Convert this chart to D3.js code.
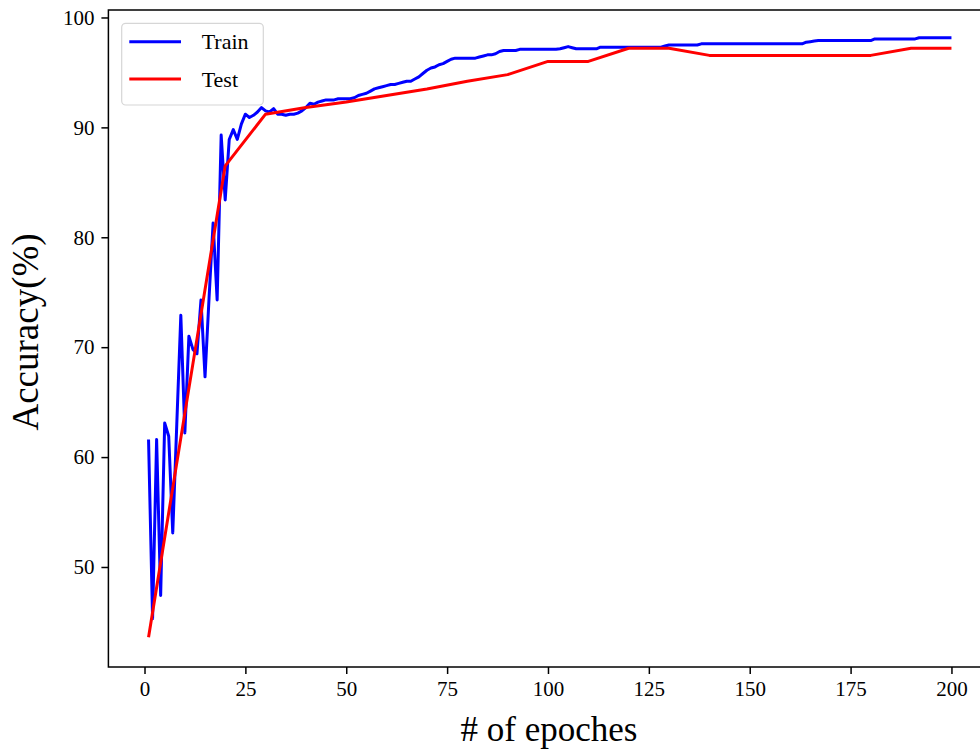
<!DOCTYPE html>
<html lang="en">
<head>
    <meta charset="UTF-8">
    <title>Accuracy vs epochs</title>
    <script src="https://d3js.org/d3.v7.min.js"></script>
    <style>
        body { margin: 0; background: #fff; }
        svg { display: block; font-family: "Liberation Serif", "Times New Roman", serif; }
        .tick text { font-family: "Liberation Serif", "Times New Roman", serif; font-size: 21px; fill: #000; }
        .tick line, .domain { stroke: #000; stroke-width: 1.5; }
    </style>
</head>
<body>
    <svg width="980" height="751"></svg>

    <script>
        // epochs for the training curve (one value per epoch)
        const trainEpochs = d3.range(1, 201);
        const trainAcc = [
            61.6, 45.3, 61.6, 47.4, 63.1, 61.9, 53.1, 63.0, 72.9, 62.2,
            71.0, 69.8, 69.4, 74.3, 67.3, 74.5, 81.3, 74.3, 89.3, 83.4,
            88.9, 89.8, 88.9, 90.3, 91.2, 90.9, 91.1, 91.4, 91.8, 91.5,
            91.4, 91.7, 91.2, 91.2, 91.1, 91.2, 91.2, 91.3, 91.5, 91.8,
            92.2, 92.1, 92.3, 92.4, 92.5, 92.5, 92.5, 92.6, 92.6, 92.6,
            92.6, 92.7, 92.9, 93.0, 93.1, 93.3, 93.5, 93.6, 93.7, 93.8,
            93.9, 93.9, 94.0, 94.1, 94.2, 94.2, 94.4, 94.6, 94.9, 95.2,
            95.4, 95.5, 95.7, 95.8, 96.0, 96.2, 96.3, 96.3, 96.3, 96.3,
            96.3, 96.3, 96.4, 96.5, 96.6, 96.6, 96.7, 96.9, 97.0, 97.0,
            97.0, 97.0, 97.1, 97.1, 97.1, 97.1, 97.1, 97.1, 97.1, 97.1,
            97.1, 97.1, 97.15, 97.25, 97.35, 97.25, 97.15, 97.15, 97.15, 97.15,
            97.15, 97.15, 97.3, 97.3, 97.3, 97.3, 97.3, 97.3, 97.3, 97.3,
            97.3, 97.3, 97.3, 97.3, 97.3, 97.3, 97.3, 97.3, 97.4, 97.5,
            97.5, 97.5, 97.5, 97.5, 97.5, 97.5, 97.5, 97.6, 97.6, 97.6,
            97.6, 97.6, 97.6, 97.6, 97.6, 97.6, 97.6, 97.6, 97.6, 97.6,
            97.6, 97.6, 97.6, 97.6, 97.6, 97.6, 97.6, 97.6, 97.6, 97.6,
            97.6, 97.6, 97.6, 97.75, 97.8, 97.85, 97.9, 97.9, 97.9, 97.9,
            97.9, 97.9, 97.9, 97.9, 97.9, 97.9, 97.9, 97.9, 97.9, 97.9,
            98.05, 98.05, 98.05, 98.05, 98.05, 98.05, 98.05, 98.05, 98.05, 98.05,
            98.05, 98.15, 98.15, 98.15, 98.15, 98.15, 98.15, 98.15, 98.15, 98.15
        ];

        // test accuracy was evaluated every 10 epochs
        const testEpochs = [1, 10, 20, 30, 40, 50, 60, 70, 80, 90, 100,
            110, 120, 130, 140, 150, 160, 170, 180, 190, 200];
        const testAcc = [43.6, 64.0, 86.5, 91.2, 91.8, 92.3, 92.9, 93.5, 94.2, 94.8, 96.0,
            96.0, 97.2, 97.2, 96.55, 96.55, 96.55, 96.55, 96.55, 97.2, 97.2];

        const xTicks = [0, 25, 50, 75, 100, 125, 150, 175, 200];
        const yTicks = [50, 60, 70, 80, 90, 100];

        const series = [
            { name: "Train", color: "#0000ff", xs: trainEpochs, ys: trainAcc },
            { name: "Test", color: "#ff0000", xs: testEpochs, ys: testAcc }
        ];

        // plot box (right edge falls outside the picture, like the original crop)
        const plotL = 108.4, plotR = 991.6, plotT = 10, plotB = 667;

        const svg = d3.select("svg");

        const x = d3.scaleLinear().domain([-8.95, 209.95]).range([plotL, plotR]);
        const y = d3.scaleLinear().domain([40.9, 100.68]).range([plotB, plotT]);

        // frame
        svg.append("rect")
            .attr("x", plotL).attr("y", plotT)
            .attr("width", plotR - plotL).attr("height", plotB - plotT)
            .attr("fill", "none").attr("stroke", "#000").attr("stroke-width", 1.5);

        svg.append("g")
            .attr("transform", `translate(0,${plotB})`)
            .call(d3.axisBottom(x).tickValues(xTicks).tickSize(7).tickPadding(7).tickSizeOuter(0))
            .call(g => g.select(".domain").remove());

        svg.append("g")
            .attr("transform", `translate(${plotL},0)`)
            .call(d3.axisLeft(y).tickValues(yTicks).tickSize(7).tickPadding(7).tickSizeOuter(0))
            .call(g => g.select(".domain").remove());

        const line = d3.line()
            .x(d => x(d[0]))
            .y(d => y(d[1]));

        series.forEach(s => {
            svg.append("path")
                .datum(s.xs.map((e, i) => [e, s.ys[i]]))
                .attr("fill", "none")
                .attr("stroke", s.color)
                .attr("stroke-width", 3)
                .attr("stroke-linejoin", "round")
                .attr("d", line);
        });

        // axis titles
        svg.append("text")
            .attr("x", 549)
            .attr("y", 741)
            .attr("text-anchor", "middle")
            .style("font-size", "35px")
            .text("# of epoches");

        svg.append("text")
            .attr("transform", "translate(38,332) rotate(-90)")
            .attr("text-anchor", "middle")
            .style("font-size", "37px")
            .text("Accuracy(%)");

        // legend
        const legend = svg.append("g");
        legend.append("rect")
            .attr("x", 121.7).attr("y", 23.3)
            .attr("width", 141.6).attr("height", 81.7)
            .attr("rx", 4)
            .attr("fill", "#fff").attr("fill-opacity", 0.8)
            .attr("stroke", "#d6d6d6").attr("stroke-width", 1.2);

        series.forEach((s, i) => {
            const ly = 41.7 + i * 37.3;
            legend.append("line")
                .attr("x1", 129.3).attr("x2", 181)
                .attr("y1", ly).attr("y2", ly)
                .attr("stroke", s.color).attr("stroke-width", 3);
            legend.append("text")
                .attr("x", 201.7).attr("y", ly + 7.5)
                .style("font-size", "22px")
                .text(s.name);
        });
    </script>
</body>
</html>
